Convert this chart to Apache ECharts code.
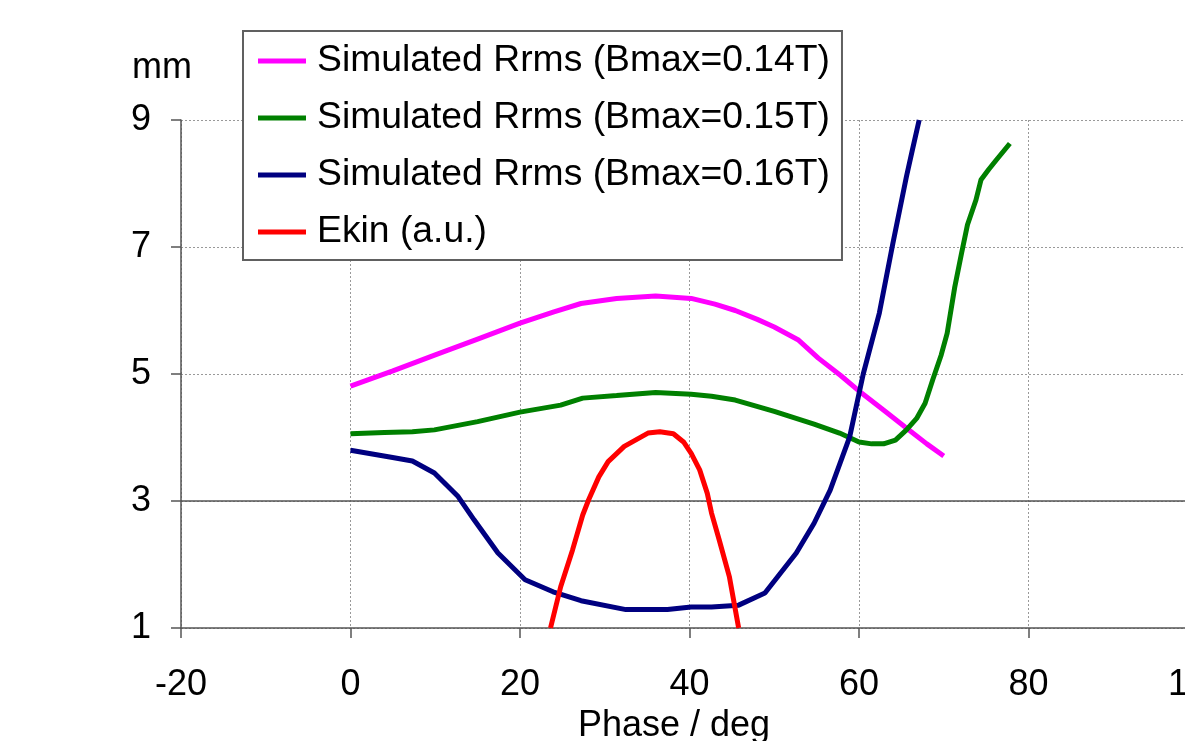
<!DOCTYPE html>
<html>
<head>
<meta charset="utf-8">
<script src="https://cdn.jsdelivr.net/npm/echarts@6/dist/echarts.min.js"></script>
<style>
html,body{margin:0;padding:0;background:#fff;}
#chart{width:1185px;height:741px;}
</style>
</head>
<body>
<div id="chart"></div>
<script>
var seriesNames = ['Simulated Rrms (Bmax=0.14T)', 'Simulated Rrms (Bmax=0.15T)', 'Simulated Rrms (Bmax=0.16T)', 'Ekin (a.u.)'];

var phase14 = [0, 5, 10, 15, 20, 24, 27.2, 31.4, 36, 40.2, 43, 45.4, 48, 50, 52.8, 55.2, 57.8, 60.3, 63, 65.4, 68, 70];
var rrms14  = [4.81, 5.05, 5.30, 5.55, 5.80, 5.98, 6.11, 6.19, 6.23, 6.19, 6.10, 6.00, 5.86, 5.74, 5.54, 5.25, 4.98, 4.70, 4.42, 4.17, 3.90, 3.71];

var phase15 = [0, 4, 7.3, 9.9, 15, 20, 24.8, 27.4, 31.4, 36, 40.2, 42.6, 45.4, 50, 54.7, 57.7, 60, 61.5, 62.9, 64.3, 65.6, 66.8, 67.8, 68.7, 69.7, 70.4, 71.3, 72.1, 72.8, 73.8, 74.4, 75.3, 76.2, 77.8];
var rrms15  = [4.06, 4.08, 4.09, 4.12, 4.25, 4.40, 4.51, 4.62, 4.66, 4.71, 4.68, 4.65, 4.59, 4.41, 4.21, 4.07, 3.93, 3.90, 3.90, 3.96, 4.12, 4.30, 4.54, 4.91, 5.30, 5.64, 6.37, 6.90, 7.35, 7.74, 8.06, 8.22, 8.37, 8.63];

var phase16 = [0, 4.8, 7.3, 9.9, 12.7, 14.6, 17.4, 20.6, 23.9, 27.2, 32.5, 37.4, 40.2, 42.6, 45.8, 48.9, 52.6, 54.7, 56.6, 58.9, 60.5, 62.4, 64.0, 65.6, 66.3, 67.1];
var rrms16  = [3.80, 3.69, 3.63, 3.44, 3.07, 2.70, 2.18, 1.76, 1.57, 1.43, 1.29, 1.29, 1.33, 1.33, 1.36, 1.55, 2.18, 2.65, 3.17, 4.01, 5.00, 5.96, 7.06, 8.11, 8.53, 9.00];

var phaseE = [23.6, 24.8, 26.2, 27.4, 28.1, 29.3, 30.4, 32.3, 35.1, 36.5, 38.1, 39.3, 40.2, 41.2, 42.1, 42.6, 43.5, 44.7, 45.8];
var ekin   = [1.00, 1.65, 2.23, 2.78, 3.02, 3.38, 3.62, 3.86, 4.07, 4.09, 4.06, 3.93, 3.75, 3.49, 3.12, 2.81, 2.39, 1.81, 1.00];

var xTicks = [-20, 0, 20, 40, 60, 80, 100];
var yTicks = [1, 3, 5, 7, 9];
var colors = ['#FF00FF', '#008000', '#000080', '#FF0000'];

function pairs(xs, ys) { return xs.map(function (x, i) { return [x, ys[i]]; }); }

var FONT = '"Liberation Sans", Arial, sans-serif';
var chart = echarts.init(document.getElementById('chart'), null, {renderer: 'canvas'});

function mkSeries(i, xs, ys) {
  return {
    name: seriesNames[i], type: 'line', data: pairs(xs, ys),
    showSymbol: false, symbol: 'none', smooth: false,
    lineStyle: {color: colors[i], width: 5},
    itemStyle: {color: colors[i]},
    clip: true, z: 3 + i
  };
}

var s0 = mkSeries(0, phase14, rrms14);
s0.markLine = {
  silent: true, symbol: 'none', label: {show: false},
  lineStyle: {color: '#555', type: 'solid', width: 1.5},
  data: [{yAxis: yTicks[1]}], z: 1
};

var option = {
  animation: false,
  backgroundColor: '#fff',
  color: colors,
  grid: {left: 181, top: 120, right: -13, bottom: 113, containLabel: false, outerBoundsMode: 'none'},
  legend: {
    orient: 'vertical', left: 243, top: 31,
    padding: [10, 12, 8, 15], itemGap: 17, itemWidth: 48, itemHeight: 5,
    icon: 'rect', borderColor: '#606060', borderWidth: 2, backgroundColor: '#fff',
    data: seriesNames,
    textStyle: {fontSize: 37.3, fontFamily: FONT, color: '#000', lineHeight: 40, padding: [0, 0, 0, 6]},
    z: 10
  },
  xAxis: {
    type: 'value', min: xTicks[0], max: xTicks[xTicks.length - 1], interval: 20,
    name: 'Phase / deg', nameLocation: 'middle', nameGap: 74,
    nameTextStyle: {fontSize: 36, fontFamily: FONT, color: '#000', padding: [0, 31, 0, 0]},
    axisLine: {onZero: false, lineStyle: {color: '#555', width: 1.5}},
    axisTick: {show: true, inside: false, length: 10, lineStyle: {color: '#555', width: 1.5}},
    axisLabel: {fontSize: 36, fontFamily: FONT, color: '#000', margin: 39},
    splitLine: {show: true, lineStyle: {color: '#999', type: [2, 2], width: 1}}
  },
  yAxis: {
    type: 'value', min: yTicks[0], max: yTicks[yTicks.length - 1], interval: 2,
    name: 'mm', nameLocation: 'end', nameGap: 34,
    nameTextStyle: {fontSize: 36, fontFamily: FONT, color: '#000', align: 'center', padding: [0, 38, 0, 0]},
    axisLine: {show: true, onZero: false, lineStyle: {color: '#555', width: 1.5}},
    axisTick: {show: true, inside: false, length: 10, lineStyle: {color: '#555', width: 1.5}},
    axisLabel: {fontSize: 36, fontFamily: FONT, color: '#000', margin: 30, padding: [5, 0, 0, 0]},
    splitLine: {show: true, lineStyle: {color: '#999', type: [2, 2], width: 1}}
  },
  series: [
    s0,
    mkSeries(1, phase15, rrms15),
    mkSeries(2, phase16, rrms16),
    mkSeries(3, phaseE, ekin)
  ]
};
chart.setOption(option);
</script>
</body>
</html>
